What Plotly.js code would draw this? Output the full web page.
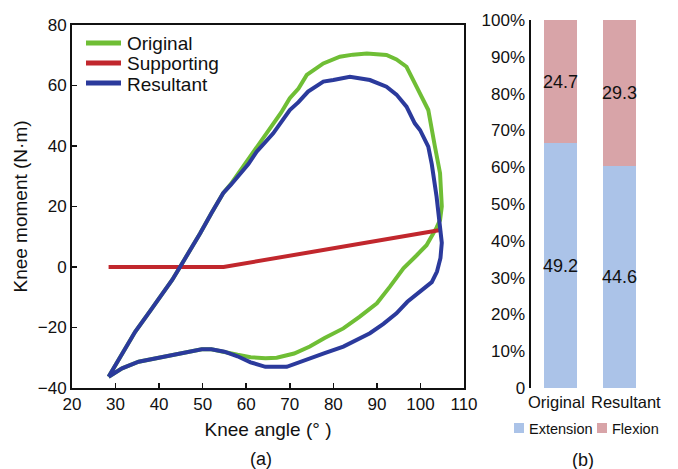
<!DOCTYPE html>
<html>
<head>
<meta charset="utf-8">
<script src="https://cdn.plot.ly/plotly-3.0.1.min.js"></script>
<style>html,body{margin:0;padding:0;background:#fff;overflow:hidden}#chart{width:678px;height:469px}</style>
</head>
<body>
<div id="chart"></div>
<script>
// ---- Panel (a): knee moment vs knee angle ----
const originalAngle = [28.4, 31, 34.5, 38, 43, 44.8, 47, 49.4, 52, 54.7, 56.5, 59.3, 62.4, 65.5, 68, 70, 72, 73.9, 77.7, 81.5, 84.5, 87.7, 90, 92.2, 94.5, 96.8, 99.1, 101.8, 103.3, 104.5, 104.9, 104.5, 103.7, 101.4, 99.1, 96.1, 93, 90, 86, 82.3, 78, 74.6, 71, 67, 64.4, 61, 58, 55, 52, 49.8, 46, 43, 39, 35.3, 31.5, 28.4];
const originalMoment = [-36.3, -29.8, -21.4, -14.4, -4.3, 0, 5.2, 11.1, 17.8, 24.4, 27.5, 33.2, 39.8, 46.4, 51, 55.8, 59, 63.5, 67.3, 69.5, 70.2, 70.6, 70.5, 70.1, 68.6, 66.2, 59.6, 51.9, 40, 31, 20, 15.5, 13, 7.2, 3.8, -0.4, -6.5, -12, -16.5, -20.3, -23.5, -26.3, -28.6, -30, -30.2, -29.8, -29, -28, -27.2, -27.2, -28.3, -29.1, -30.2, -31.3, -33.5, -36.3];

const supportAngle = [28.4, 54.8, 104.9];
const supportMoment = [0, 0, 12.3];

const resultAngle = [28.4, 31, 34.5, 38, 43, 44.8, 47, 49.4, 52, 54.7, 56.5, 58.2, 60.5, 62.4, 66.2, 70, 72, 74.2, 77.7, 80, 83.8, 88.4, 90, 92.2, 94.5, 96.8, 98.7, 99.9, 101.8, 102.6, 103.7, 104.5, 104.9, 104.6, 103.8, 102.6, 99.9, 97, 94.5, 91.5, 88.4, 85, 82.3, 78, 74.6, 71, 69.3, 66, 64.4, 61, 58, 55, 52, 49.8, 46, 43, 39, 35.3, 31.5, 28.4];
const resultMoment = [-36.3, -29.8, -21.4, -14.4, -4.3, 0, 5.2, 11.1, 17.8, 24.4, 27.2, 29.9, 34, 38.1, 44.2, 51.9, 54.5, 58, 61.3, 61.8, 62.9, 61.8, 60.8, 59.6, 57, 53, 47.5, 45.3, 39.8, 34, 23.3, 13.3, 8, 3, -1.5, -5, -8, -11.5, -15.3, -18.8, -21.9, -24.3, -26.3, -28.5, -30.2, -31.8, -33, -33, -33, -31.5, -29.5, -28, -27.2, -27.2, -28.3, -29.1, -30.2, -31.3, -33.5, -36.3];

const lineNames = ['Original', 'Supporting', 'Resultant'];
const lineColors = ['#6fbe35', '#c1272d', '#2b3a9c'];

// ---- Panel (b): stacked percentage bars ----
const barCategories = ['Original', 'Resultant'];
const barNames = ['Extension', 'Flexion'];
const barColors = ['#abc3e8', '#d8a4a8'];
const extensionValues = [49.2, 44.6];
const flexionValues = [24.7, 29.3];
const pctTickVals = [0, 10, 20, 30, 40, 50, 60, 70, 80, 90, 100];
const pctTickText = ['0', '10%', '20%', '30%', '40%', '50%', '60%', '70%', '80%', '90%', '100%'];

const FONT = 'Liberation Sans, Arial, sans-serif';

// page-pixel helpers (plot area spans x 72..649, y 20..388)
const ML = 72, MR = 29, MT = 20, MB = 81, W = 678, H = 469;
const PW = W - ML - MR, PH = H - MT - MB;
const px = v => (v - ML) / PW;
const py = v => (H - MB - v) / PH;

const lineSeries = [[originalAngle, originalMoment], [supportAngle, supportMoment], [resultAngle, resultMoment]];
const traces = lineSeries.map((s, i) => ({
  x: s[0], y: s[1], name: lineNames[i], type: 'scatter', mode: 'lines',
  line: {color: lineColors[i], width: 4}, xaxis: 'x', yaxis: 'y', showlegend: false, hoverinfo: 'skip'
}));
[extensionValues, flexionValues].forEach((vals, i) => {
  traces.push({
    x: barCategories, y: vals, name: barNames[i], type: 'bar',
    marker: {color: barColors[i], line: {width: 0}},
    xaxis: 'x2', yaxis: 'y2', showlegend: false, hoverinfo: 'skip'
  });
});

const shapes = [];
const annotations = [];
// value labels centred in each stacked segment (percent scale from the data)
barCategories.forEach((c, i) => {
  const tot = extensionValues[i] + flexionValues[i];
  const ePct = extensionValues[i] / tot * 100;
  const fPct = flexionValues[i] / tot * 100;
  annotations.push({text: extensionValues[i].toFixed(1), xref: 'x2', yref: 'y2', x: c, y: ePct / 2,
    xanchor: 'center', yanchor: 'middle', showarrow: false, font: {size: 18, color: '#111'}});
  annotations.push({text: flexionValues[i].toFixed(1), xref: 'x2', yref: 'y2', x: c, y: ePct + fPct / 2,
    xanchor: 'center', yanchor: 'middle', showarrow: false, font: {size: 18, color: '#111'}});
});
// category labels
const catShift = [-4, 6];
barCategories.forEach((c, i) => {
  annotations.push({text: c, xref: 'x2', yref: 'paper', x: c, y: py(402), xshift: catShift[i],
    xanchor: 'center', yanchor: 'middle', showarrow: false, font: {size: 16.5}});
});
// legend for panel (a)
lineNames.forEach((n, i) => {
  const yy = 43 + 20 * i;
  shapes.push({type: 'line', xref: 'paper', yref: 'paper', x0: px(86), x1: px(121), y0: py(yy), y1: py(yy),
    line: {color: lineColors[i], width: 5}});
  annotations.push({text: n, xref: 'paper', yref: 'paper', x: px(125), y: py(yy + 1), xanchor: 'left', yanchor: 'middle',
    showarrow: false, font: {size: 19}});
});
// legend for panel (b)
const legX = [514, 597];
barNames.forEach((n, i) => {
  shapes.push({type: 'rect', xref: 'paper', yref: 'paper', x0: px(legX[i]), x1: px(legX[i] + 10), y0: py(433), y1: py(423),
    fillcolor: barColors[i], line: {width: 0}});
  annotations.push({text: n, xref: 'paper', yref: 'paper', x: px(legX[i] + 13), y: py(428.5), xanchor: 'left', yanchor: 'middle',
    showarrow: false, font: {size: 14.5}});
});
annotations.push({text: '(a)', x: px(261), y: py(459), xref: 'paper', yref: 'paper', xanchor: 'center', yanchor: 'middle', showarrow: false, font: {size: 18}});
annotations.push({text: '(b)', x: px(583), y: py(460), xref: 'paper', yref: 'paper', xanchor: 'center', yanchor: 'middle', showarrow: false, font: {size: 18}});

const layout = {
  width: W, height: H,
  margin: {l: ML, r: MR, t: MT, b: MB},
  paper_bgcolor: '#fff', plot_bgcolor: '#fff',
  font: {family: FONT, color: '#111', size: 16},
  showlegend: false,
  barmode: 'stack', barnorm: 'percent', bargap: 0.44,
  xaxis: {
    domain: [0, px(464)], range: [20, 110], dtick: 10, tick0: 20, automargin: false,
    showgrid: false, zeroline: false,
    showline: true, linecolor: '#111', linewidth: 2, mirror: true,
    ticks: 'inside', ticklen: 5, tickwidth: 1.5, tickcolor: '#111',
    tickfont: {size: 17},
    title: {text: 'Knee angle (° )', font: {size: 19}, standoff: 9}
  },
  yaxis: {
    domain: [0, py(25)], range: [-40, 80], dtick: 20, automargin: false,
    showgrid: false, zeroline: false,
    showline: true, linecolor: '#111', linewidth: 2, mirror: true,
    ticks: 'inside', ticklen: 5, tickwidth: 1.5, tickcolor: '#111',
    tickfont: {size: 17},
    title: {text: 'Knee moment (N·m)', font: {size: 19}, standoff: 5}
  },
  xaxis2: {
    domain: [px(531), 1], anchor: 'y2', range: [-0.5, 1.5], automargin: false,
    showgrid: false, zeroline: false, showline: false, ticks: '', showticklabels: false
  },
  yaxis2: {
    domain: [0, 1], anchor: 'x2', range: [0, 100], automargin: false,
    tickvals: pctTickVals, ticktext: pctTickText,
    showgrid: false, zeroline: false,
    showline: true, linecolor: '#111', linewidth: 2.5, ticks: '',
    tickfont: {size: 17}
  },
  shapes: shapes,
  annotations: annotations
};

Plotly.newPlot('chart', traces, layout, {displayModeBar: false, staticPlot: true});
</script>
</body>
</html>
